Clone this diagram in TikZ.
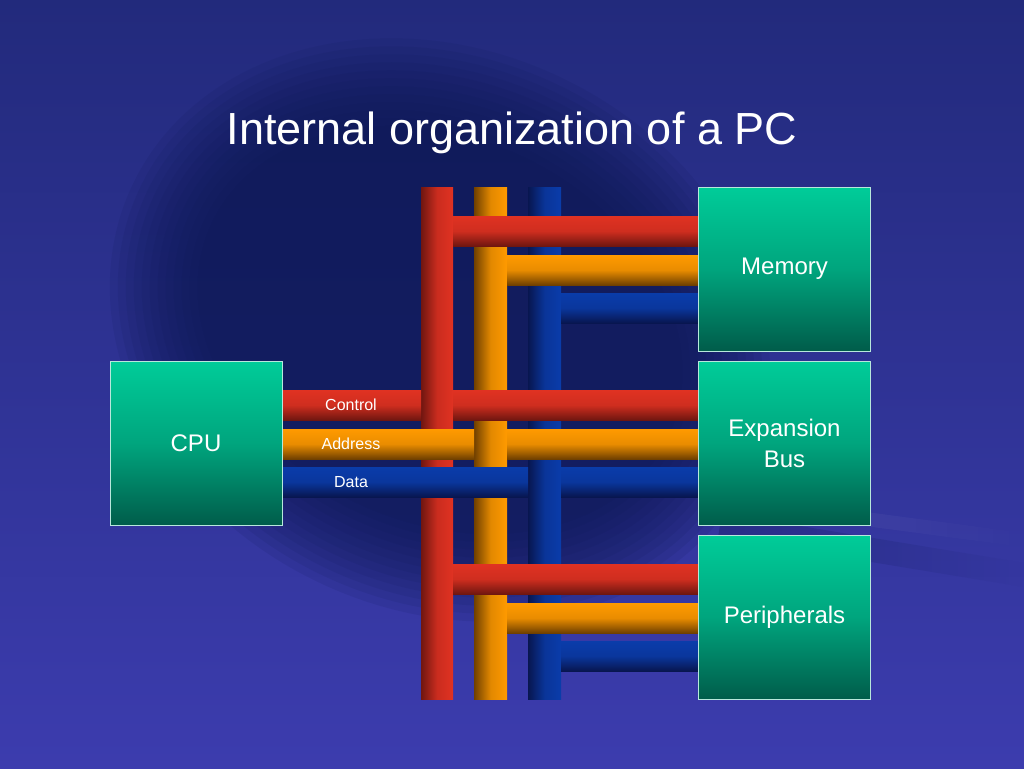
\documentclass[tikz,border=0pt]{standalone}
\usepackage{fontspec}
\setmainfont{Liberation Sans}
\usetikzlibrary{fadings}
\pgfdeclarelayer{back}
\pgfdeclarelayer{bus}
\pgfsetlayers{back,bus,main}
\definecolor{bgtop}{HTML}{222A7C}
\definecolor{bgbot}{HTML}{3C3CAE}
\definecolor{mousedark}{HTML}{0C1850}
\definecolor{redhi}{HTML}{E03222}
\definecolor{redlo}{HTML}{701610}
\definecolor{orghi}{HTML}{FF9A00}
\definecolor{orglo}{HTML}{704000}
\definecolor{bluhi}{HTML}{0A3CAA}
\definecolor{blulo}{HTML}{081650}
\definecolor{boxhi}{HTML}{00CC99}
\definecolor{boxlo}{HTML}{005C4A}
\definecolor{boxline}{HTML}{B8E8DC}
\tikzset{
  unitbox/.style={draw=boxline, line width=1pt, top color=boxhi, bottom color=boxlo,
    middle color=boxhi!65!boxlo, minimum width=172pt, minimum height=164pt,
    inner sep=0pt, text=white, font=\fontsize{24}{31}\selectfont, align=center},
  vbus/.style={left color=#1lo, right color=#1hi, middle color=#1hi!80!#1lo},
  hbus/.style={top color=#1hi, bottom color=#1lo, middle color=#1hi!85!#1lo},
  buslabel/.style={text=white, inner sep=0pt, font=\fontsize{16}{18}\selectfont}
}
% three branches from the bus to one unit, top edge at #1
\def\branch(#1)#2{%
  \fill[hbus=red] (453,#1) rectangle (#2.west |- 0,#1+30);
  \fill[hbus=org] (507,#1+39) rectangle (#2.west |- 0,#1+69);
  \fill[hbus=blu] (561,#1+77) rectangle (#2.west |- 0,#1+107);}

\begin{document}
\begin{tikzpicture}[x=1pt, y=-1pt]
  %%%%% BACKGROUND %%%%%
  \useasboundingbox (0,0) rectangle (1024,768);
  \begin{pgfonlayer}{back}
  \shade[top color=bgtop, bottom color=bgbot] (0,0) rectangle (1024,768);
  \foreach \r in {0,...,11}
    \fill[mousedark, opacity=0.1, rotate around={-25:(440,330)}]
      (440,330) ellipse [x radius=340-8*\r, y radius=280-8*\r];
  \draw[mousedark, opacity=0.3, line width=24pt, path fading=east] (720,525) -- (1024,575);
  \draw[white, opacity=0.07, line width=14pt, path fading=east] (760,505) -- (1024,540);
  \end{pgfonlayer}

  %%%%% TITLE %%%%%
  \node[text=white, font=\fontsize{45}{50}\selectfont] (title) at (512,133) {Internal organization of a PC};

  %%%%% UNITS %%%%%
  \node[unitbox] (cpu) at (196,443.5) {CPU};
  \node[unitbox] (mem) at (784.5,269) {Memory};
  \node[unitbox] (exp) at (784.5,443.5) {Expansion\\Bus};
  \node[unitbox] (per) at (784.5,617.5) {Peripherals};

  %%%%% BUS %%%%%
  \begin{pgfonlayer}{bus}
  \fill[vbus=red] (421,187) rectangle (453,699);
  \fill[vbus=org] (474,187) rectangle (507,699);
  \fill[vbus=blu] (528,187) rectangle (561,699);

  \branch(216){mem}
  \branch(564){per}

  \fill[hbus=red] (cpu.east |- 0,390) rectangle (421,420);
  \fill[hbus=red] (453,390) rectangle (exp.west |- 0,420);
  \fill[hbus=org] (cpu.east |- 0,429) rectangle (474,459);
  \fill[hbus=org] (507,429) rectangle (exp.west |- 0,459);
  \fill[hbus=blu] (cpu.east |- 0,467) rectangle (528,497);
  \fill[hbus=blu] (561,467) rectangle (exp.west |- 0,497);
  \end{pgfonlayer}

  \node[buslabel] (ctl) at (351,405) {Control};
  \node[buslabel] (adr) at (351,444) {Address};
  \node[buslabel] (dat) at (351,482) {Data};
\end{tikzpicture}
\end{document}
